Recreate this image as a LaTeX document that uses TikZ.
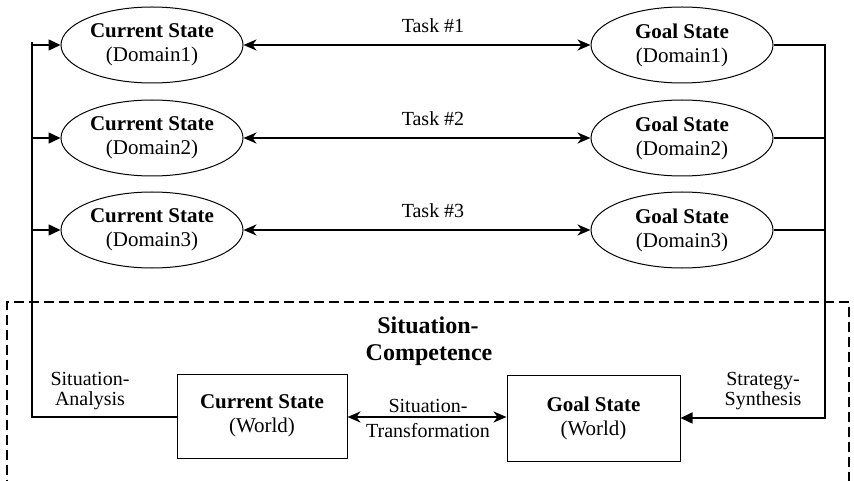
\documentclass[tikz,border=0pt]{standalone}
\usepackage{fontspec}
\setmainfont{Liberation Serif}
\usetikzlibrary{arrows.meta,shapes.geometric}

\tikzset{
  txt/.style={font=\fontsize{21}{24}\selectfont, align=center},
  ell/.style={ellipse, draw, line width=1pt, minimum width=182pt, minimum height=76pt, inner sep=0pt, txt},
  box/.style={rectangle, draw, line width=1pt, inner sep=0pt, txt},
  wire/.style={line width=1.6pt},
  feed/.style={wire, -{Triangle[length=12pt,width=11pt]}},
  both/.style={wire, {Stealth[length=13pt,width=11pt,inset=4pt]}-{Stealth[length=13pt,width=11pt,inset=4pt]}},
  lbl/.style={font=\fontsize{20}{20}\selectfont, align=center, inner sep=0pt},
  ttl/.style={font=\fontsize{24}{27}\selectfont\bfseries, inner sep=0pt},
  frame/.style={line width=1.5pt, dash pattern=on 10pt off 5pt},
}

\begin{document}
\begin{tikzpicture}[x=1pt, y=-1pt]
  \useasboundingbox (0,0) rectangle (854,481);

  % domain level: current and goal states
  \node[ell] (c1) at (152,45)  {\textbf{Current State}\\(Domain1)};
  \node[ell] (c2) at (152,138) {\textbf{Current State}\\(Domain2)};
  \node[ell] (c3) at (152,230) {\textbf{Current State}\\(Domain3)};
  \node[ell] (g1) at (682,45)  {\textbf{Goal State}\\(Domain1)};
  \node[ell] (g2) at (682,138) {\textbf{Goal State}\\(Domain2)};
  \node[ell] (g3) at (682,230) {\textbf{Goal State}\\(Domain3)};

  % tasks between the domain states
  \draw[both] (c1) -- (g1);
  \draw[both] (c2) -- (g2);
  \draw[both] (c3) -- (g3);
  \node[lbl, anchor=base] (t1) at (433,33)  {Task \#1};
  \node[lbl, anchor=base] (t2) at (433,126) {Task \#2};
  \node[lbl, anchor=base] (t3) at (433,218) {Task \#3};

  % world level
  \node[box, minimum width=170pt, minimum height=84pt] (cw) at (262,416)
    {\textbf{Current State}\\(World)};
  \node[box, minimum width=173pt, minimum height=86pt] (gw) at (593.5,418)
    {\textbf{Goal State}\\(World)};
  \draw[both] (cw.east |- 0,417) -- (gw.west |- 0,417);
  \node[lbl, anchor=base] (st1) at (428,412) {Situation-};
  \node[lbl, anchor=base] (st2) at (428,437) {Transformation};

  % competence frame
  \draw[frame] (7,490) -- (7,302) -- (849,302) -- (849,490);
  \node[ttl, anchor=base] (sc1) at (428,333) {Situation-};
  \node[ttl, anchor=base] (sc2) at (429,360) {Competence};

  % analysis: world state feeds the domain states
  \coordinate (la) at (32,42);
  \coordinate (lb) at (32,417);
  \draw[wire] (cw.west |- lb) -- (lb) -- (la);
  \draw[feed] (32,45) -- (c1.west);
  \draw[feed] (32,138) -- (c2.west);
  \draw[feed] (32,230) -- (c3.west);
  \node[lbl, anchor=base] (sa1) at (90,385) {Situation-};
  \node[lbl, anchor=base] (sa2) at (90,405) {Analysis};

  % synthesis: domain goals combine into the world goal
  \coordinate (ra) at (825,44);
  \coordinate (rb) at (825,418);
  \draw[wire] (g1.east) -- (g1.east -| ra);
  \draw[wire] (g2.east) -- (g2.east -| ra);
  \draw[wire] (g3.east) -- (g3.east -| ra);
  \draw[feed] (ra) -- (rb) -- (gw.east);
  \node[lbl, anchor=base] (ss1) at (763,385) {Strategy-};
  \node[lbl, anchor=base] (ss2) at (763,405) {Synthesis};
\end{tikzpicture}
\end{document}
